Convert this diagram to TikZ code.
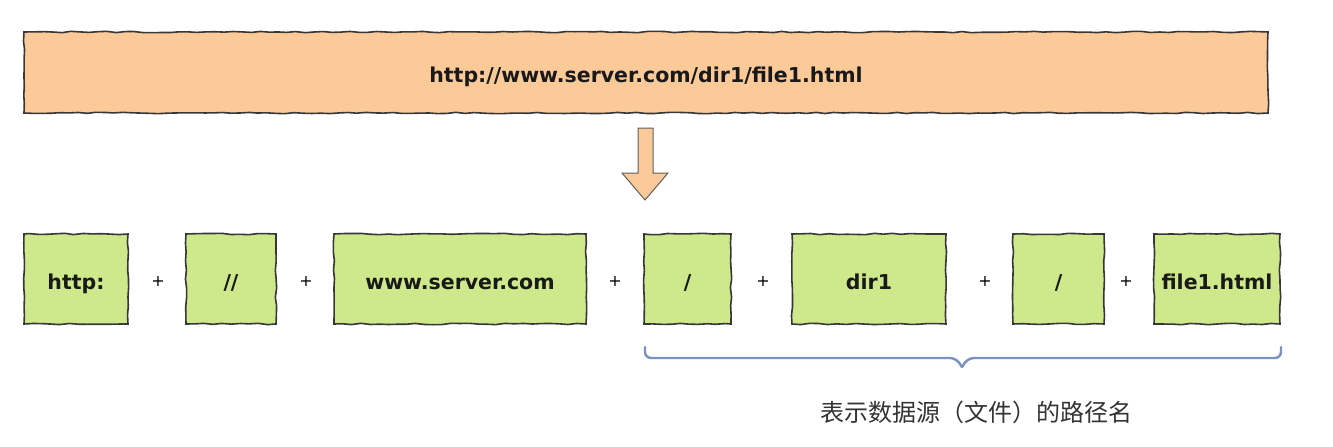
\documentclass[tikz,border=0pt]{standalone}
\usepackage{fontspec}
\setmainfont{DejaVu Sans}
\newfontfamily\cjk{Noto Sans CJK SC}
\usetikzlibrary{decorations.pathmorphing}
\definecolor{orangefill}{RGB}{252,202,152}
\definecolor{greenfill}{RGB}{206,232,140}
\definecolor{edge}{RGB}{55,55,55}
\definecolor{bracecol}{RGB}{122,146,190}
\tikzset{
  rough/.style={draw=edge, line width=1.6pt, decorate,
    decoration={random steps, segment length=9pt, amplitude=0.7pt}},
  urlbar/.style={rough, fill=orangefill, minimum width=1244pt, minimum height=81pt,
    inner sep=0pt, text height=20pt, text depth=0pt, text=black!90,
    font=\fontsize{20.5}{24}\selectfont\bfseries},
  part/.style={rough, fill=greenfill, minimum height=90pt, inner sep=0pt,
    text height=20pt, text depth=0pt, text=black!90,
    font=\fontsize{20.5}{24}\selectfont\bfseries},
  plus/.style={font=\fontsize{16}{18}\selectfont, inner sep=0pt},
}
\begin{document}
\begin{tikzpicture}[x=1pt,y=-1pt]
\useasboundingbox (0,0) rectangle (1333,447);
\node[urlbar] (url) at (646,72.5) {http://www.server.com/dir1/file1.html};
% down arrow
\draw[fill=orangefill, draw=edge!80, line width=1pt, line join=miter]
  (638,128) -- (653,128) -- (653,173) -- (668,173) -- (645,200) -- (622,173) -- (638,173) -- cycle;
% parts
\node[part, minimum width=104pt] (p1) at (76,279) {http:};
\node[part, minimum width=90pt] (p2) at (231,279) {//};
\node[part, minimum width=252pt] (p3) at (460,279) {www.server.com};
\node[part, minimum width=87pt] (p4) at (687.5,279) {/};
\node[part, minimum width=154pt] (p5) at (869,279) {dir1};
\node[part, minimum width=91pt] (p6) at (1058.5,279) {/};
\node[part, minimum width=126pt] (p7) at (1217,279) {file1.html};
% plus signs
\node[plus] (s1) at (158,281) {+};
\node[plus] (s2) at (306,281) {+};
\node[plus] (s3) at (615,281) {+};
\node[plus] (s4) at (763,281) {+};
\node[plus] (s5) at (985,281) {+};
\node[plus] (s6) at (1126,281) {+};
% brace
\coordinate (bl) at (645,347);
\coordinate (br) at (1281,347);
\coordinate (bt) at (962,367);
\draw[bracecol, line width=2.4pt, rounded corners=6pt, line cap=round]
  (bl) -- (645,358) -- (956,358) -- (bt);
\draw[bracecol, line width=2.4pt, rounded corners=6pt, line cap=round]
  (bt) -- (968,358) -- (1281,358) -- (br);
\node[font=\cjk\fontsize{24}{26}\selectfont, text=black!80] (lbl) at (976,412) {表示数据源（文件）的路径名};
\end{tikzpicture}
\end{document}
